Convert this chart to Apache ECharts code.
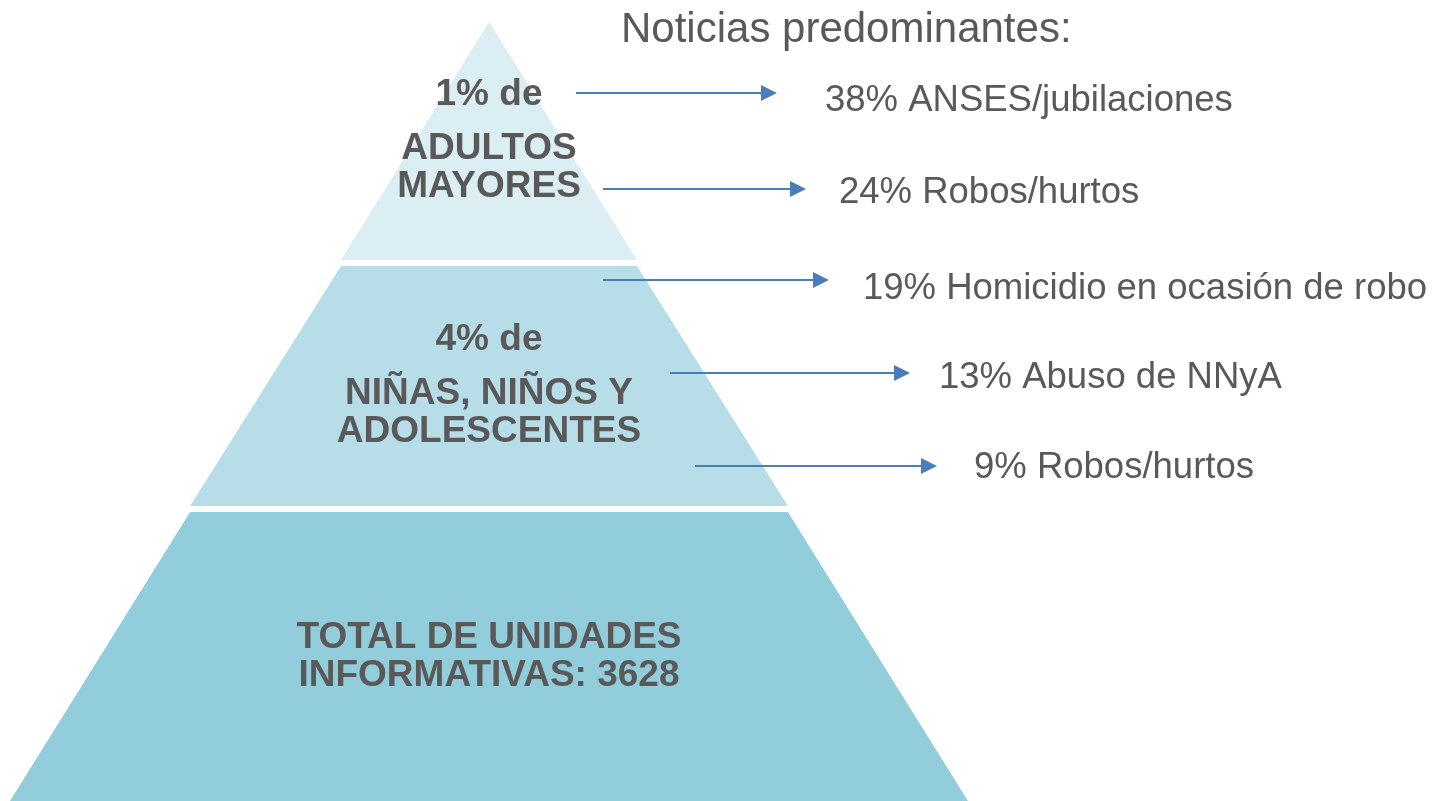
<html lang="es">

<head>
    <meta charset="UTF-8">
    <title>Pirámide de noticias</title>
    <script src="https://cdn.jsdelivr.net/npm/echarts@6.0.0/dist/echarts.min.js"></script>
    <style>
        html, body { margin: 0; padding: 0; background: #fff; }
        #my-chart { width: 1452px; height: 801px; }
    </style>
</head>

<body>
    <div id="my-chart"></div>
    <script>
        // pyramid tiers, bottom to top
        const tierNames = ['TOTAL DE UNIDADES\nINFORMATIVAS: 3628', 'NIÑAS, NIÑOS Y\nADOLESCENTES', 'ADULTOS\nMAYORES'];
        const tierShares = [null, 4, 1];
        const tierWidths = [100, 62.4, 30.9];

        // predominant news
        const newsNames = ['ANSES/jubilaciones', 'Robos/hurtos', 'Homicidio en ocasión de robo', 'Abuso de NNyA', 'Robos/hurtos'];
        const newsShares = [38, 24, 19, 13, 9];

        // layout (pixels) for arrows and their texts
        const rowY = [93, 189, 280, 373, 466];
        const arrowFrom = [576, 603, 603, 670, 695];
        const arrowTo = [769, 798, 821, 902, 929];
        const textX = [825, 839, 863, 939, 974];
        const textY = [101, 193, 289, 378, 468];
        const tierHeights = [289, 240, 238];
        const tierColors = ['#92CDDC', '#B7DEE8', '#DAEEF3'];

        const font = 'Arial';
        const gray = '#595959';

        var myChart = echarts.init(document.getElementById('my-chart'));

        let funnelData = tierNames.map((name, i) => ({
            name: name,
            value: tierWidths[i],
            itemStyle: { color: tierColors[i], height: tierHeights[i] },
            label: {
                formatter: tierShares[i] == null
                    ? '{n|' + name + '}'
                    : '{p|' + tierShares[i] + '% de}\n{g| }\n{n|' + name + '}'
            }
        }));

        let option = {
            animation: false,
            title: {
                text: 'Noticias predominantes:',
                left: 621,
                top: 9,
                padding: 0,
                textStyle: { fontSize: 42, fontWeight: 'normal', color: gray, fontFamily: font }
            },
            grid: { left: 0, right: 0, top: 0, bottom: 0 },
            xAxis: { type: 'value', min: 0, max: 1452, show: false },
            yAxis: { type: 'value', min: 0, max: 801, inverse: true, show: false },
            series: [
                {
                    type: 'funnel',
                    left: 10,
                    top: 22,
                    width: 958,
                    height: 779,
                    min: 0,
                    max: 100,
                    minSize: '0%',
                    maxSize: '100%',
                    sort: 'ascending',
                    gap: 6,
                    itemStyle: { borderWidth: 0 },
                    emphasis: { disabled: true },
                    label: {
                        show: true,
                        position: 'inside',
                        color: gray,
                        fontFamily: font,
                        rich: {
                            p: { fontSize: 37, fontWeight: 'bold', color: gray, fontFamily: font, lineHeight: 38 },
                            g: { fontSize: 10, lineHeight: 16 },
                            n: { fontSize: 37, fontWeight: 'bold', color: gray, fontFamily: font, lineHeight: 38 }
                        }
                    },
                    data: funnelData
                },
                {
                    type: 'lines',
                    coordinateSystem: 'cartesian2d',
                    symbol: ['none', 'triangle'],
                    symbolSize: [15, 16],
                    silent: true,
                    lineStyle: { color: '#4A7EBB', width: 2, opacity: 1 },
                    data: rowY.map((y, i) => ({ coords: [[arrowFrom[i], y], [arrowTo[i], y]] }))
                },
                {
                    type: 'scatter',
                    symbolSize: 0,
                    silent: true,
                    itemStyle: { opacity: 1 },
                    label: {
                        show: true,
                        position: 'right',
                        distance: 0,
                        fontSize: 36.5,
                        color: gray,
                        fontFamily: font,
                        formatter: p => newsShares[p.dataIndex] + '% ' + newsNames[p.dataIndex]
                    },
                    data: textX.map((x, i) => [x, textY[i]])
                }
            ]
        };

        myChart.setOption(option);
    </script>
</body>

</html>
